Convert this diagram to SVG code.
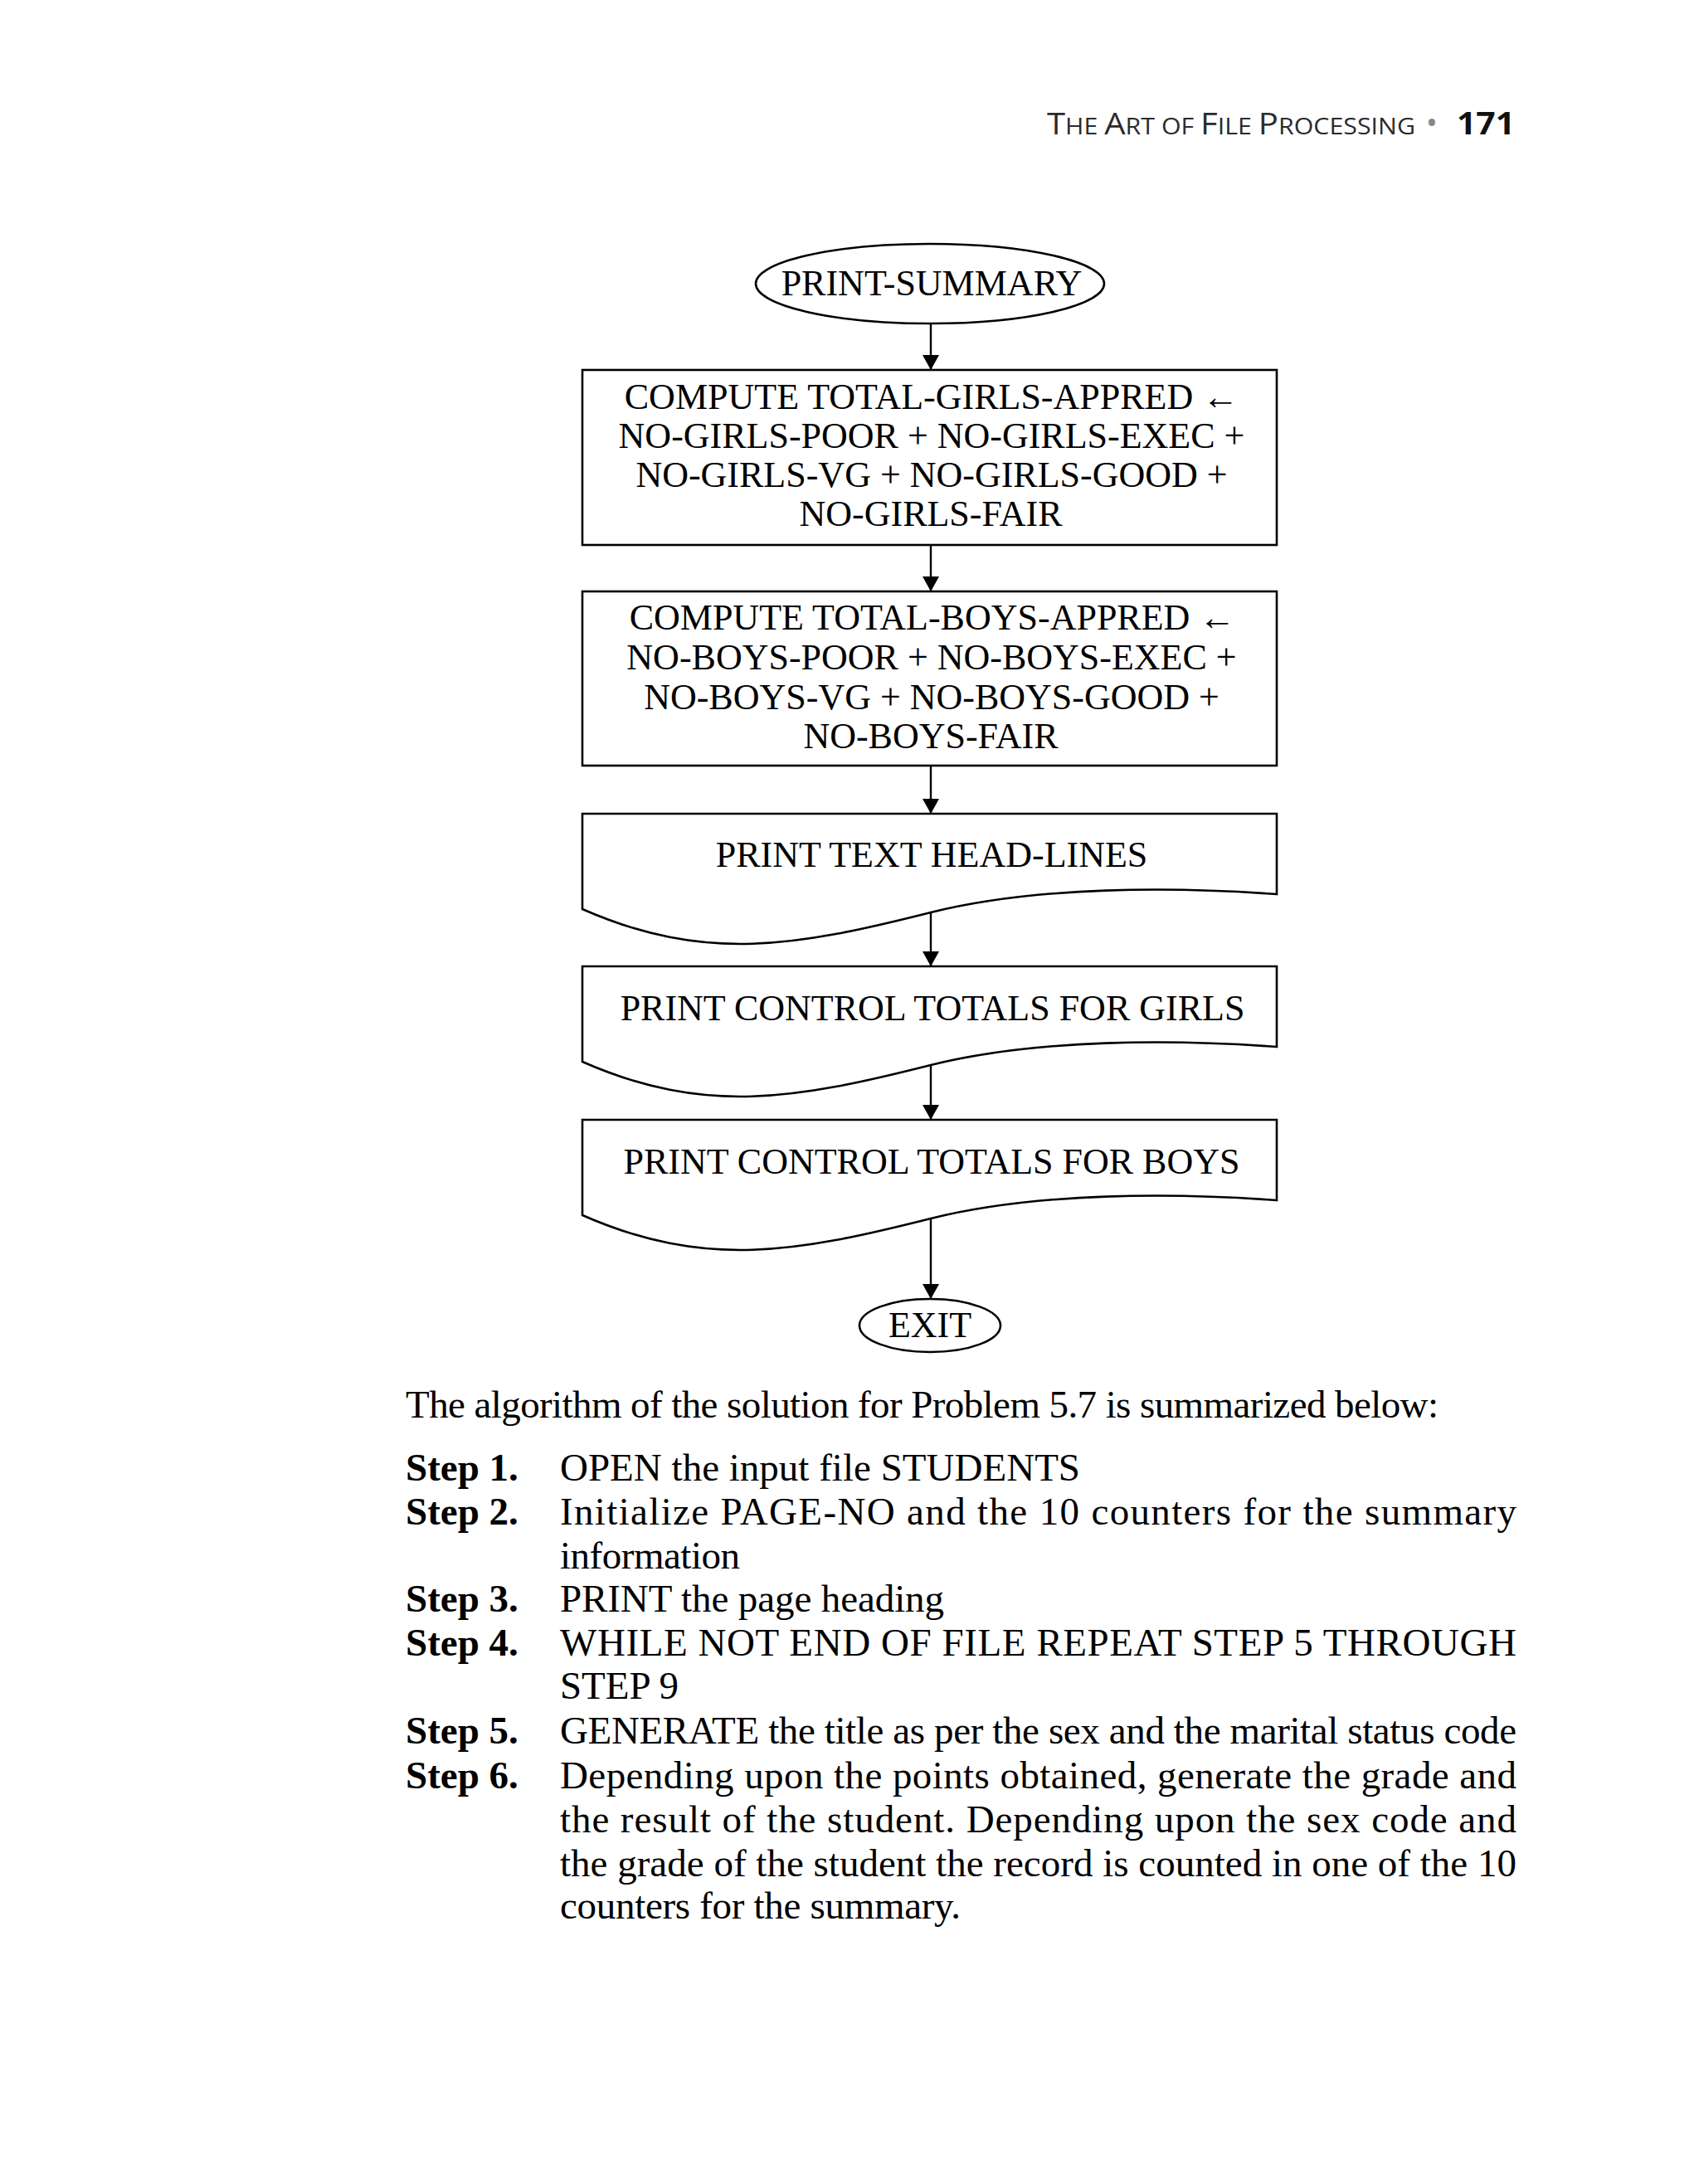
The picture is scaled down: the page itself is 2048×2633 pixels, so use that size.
<svg xmlns="http://www.w3.org/2000/svg" width="2048" height="2633" viewBox="0 0 2048 2633">
<defs>
<style>
.shape{fill:#fff;stroke:#000;stroke-width:2.6}
.conn{stroke:#000;stroke-width:2.4;fill:none}
.nt{font-family:"Liberation Serif","Times New Roman",serif;font-size:44px;fill:#000;text-anchor:middle}
.body{font-family:"Liberation Serif","Times New Roman",serif;font-size:47px;fill:#000}
.step{font-family:"Liberation Serif","Times New Roman",serif;font-size:47px;font-weight:bold;fill:#000}
.hd{font-family:"Open Sans","Liberation Sans",sans-serif;fill:#2b2b2b}
</style>
<marker id="arr" markerUnits="userSpaceOnUse" markerWidth="22" markerHeight="20" refX="18" refY="10" orient="auto">
<path d="M0,0 L18,10 L0,20 Z" fill="#000"/>
</marker>
</defs>
<rect width="2048" height="2633" fill="#fff"/>

<g id="header">
<text class="hd" x="1262" y="162" textLength="444" lengthAdjust="spacingAndGlyphs"><tspan font-size="37">T</tspan><tspan font-size="28">HE </tspan><tspan font-size="37">A</tspan><tspan font-size="28">RT OF </tspan><tspan font-size="37">F</tspan><tspan font-size="28">ILE </tspan><tspan font-size="37">P</tspan><tspan font-size="28">ROCESSING</tspan></text>
<text x="1726" y="162" font-family="Open Sans,Liberation Sans,sans-serif" font-size="38" fill="#888" text-anchor="middle">•</text>
<text x="1756" y="162" font-family="Open Sans,Liberation Sans,sans-serif" font-size="38" font-weight="bold" fill="#111" textLength="70" lengthAdjust="spacingAndGlyphs">171</text>
</g>

<g id="connectors">
<line class="conn" x1="1122" y1="391" x2="1122" y2="446" marker-end="url(#arr)"/>
<line class="conn" x1="1122" y1="657" x2="1122" y2="713" marker-end="url(#arr)"/>
<line class="conn" x1="1122" y1="923" x2="1122" y2="981" marker-end="url(#arr)"/>
<line class="conn" x1="1122" y1="1100" x2="1122" y2="1165" marker-end="url(#arr)"/>
<line class="conn" x1="1122" y1="1285" x2="1122" y2="1350" marker-end="url(#arr)"/>
<line class="conn" x1="1122" y1="1470" x2="1122" y2="1566" marker-end="url(#arr)"/>
</g>

<g id="node-print-summary">
<ellipse class="shape" cx="1121" cy="342" rx="210" ry="48"/>
<text class="nt" x="1123" y="356">PRINT-SUMMARY</text>
</g>

<g id="node-compute-girls">
<rect class="shape" x="702" y="446" width="837" height="211"/>
<text class="nt" x="1123" y="493">COMPUTE TOTAL-GIRLS-APPRED ←</text>
<text class="nt" x="1123" y="540">NO-GIRLS-POOR + NO-GIRLS-EXEC +</text>
<text class="nt" x="1123" y="587">NO-GIRLS-VG + NO-GIRLS-GOOD +</text>
<text class="nt" x="1122" y="634">NO-GIRLS-FAIR</text>
</g>

<g id="node-compute-boys">
<rect class="shape" x="702" y="713" width="837" height="210"/>
<text class="nt" x="1124" y="759">COMPUTE TOTAL-BOYS-APPRED ←</text>
<text class="nt" x="1123" y="807">NO-BOYS-POOR + NO-BOYS-EXEC +</text>
<text class="nt" x="1123" y="855">NO-BOYS-VG + NO-BOYS-GOOD +</text>
<text class="nt" x="1122" y="902">NO-BOYS-FAIR</text>
</g>

<g id="node-print-headlines">
<path class="shape" d="M702,981 L1539,981 L1539,1078 C1416,1069 1250,1068 1122,1100 C960,1141 850,1161 702,1096 Z"/>
<text class="nt" x="1123" y="1045">PRINT TEXT HEAD-LINES</text>
</g>

<g id="node-print-girls">
<path class="shape" d="M702,1165 L1539,1165 L1539,1262 C1416,1253 1250,1252 1122,1284 C960,1325 850,1345 702,1280 Z"/>
<text class="nt" x="1124" y="1230">PRINT CONTROL TOTALS FOR GIRLS</text>
</g>

<g id="node-print-boys">
<path class="shape" d="M702,1350 L1539,1350 L1539,1447 C1416,1438 1250,1437 1122,1469 C960,1510 850,1530 702,1465 Z"/>
<text class="nt" x="1123" y="1415">PRINT CONTROL TOTALS FOR BOYS</text>
</g>

<g id="node-exit">
<ellipse class="shape" cx="1121" cy="1598" rx="85" ry="32"/>
<text class="nt" x="1121" y="1612">EXIT</text>
</g>

<g id="algorithm-text">
<text class="body" x="489" y="1709" textLength="1245" lengthAdjust="spacing">The algorithm of the solution for Problem 5.7 is summarized below:</text>
<text class="step" x="489" y="1785">Step 1.</text>
<text class="body" x="675" y="1785" textLength="627" lengthAdjust="spacing">OPEN the input file STUDENTS</text>
<text class="step" x="489" y="1838">Step 2.</text>
<text class="body" x="675" y="1838" textLength="1153" lengthAdjust="spacing">Initialize PAGE-NO and the 10 counters for the summary</text>
<text class="body" x="675" y="1891" textLength="217" lengthAdjust="spacing">information</text>
<text class="step" x="489" y="1943">Step 3.</text>
<text class="body" x="675" y="1943" textLength="463" lengthAdjust="spacing">PRINT the page heading</text>
<text class="step" x="489" y="1996">Step 4.</text>
<text class="body" x="675" y="1996" textLength="1153" lengthAdjust="spacing">WHILE NOT END OF FILE REPEAT STEP 5 THROUGH</text>
<text class="body" x="675" y="2048" textLength="143" lengthAdjust="spacing">STEP 9</text>
<text class="step" x="489" y="2102">Step 5.</text>
<text class="body" x="675" y="2102" textLength="1153" lengthAdjust="spacing">GENERATE the title as per the sex and the marital status code</text>
<text class="step" x="489" y="2156">Step 6.</text>
<text class="body" x="675" y="2156" textLength="1153" lengthAdjust="spacing">Depending upon the points obtained, generate the grade and</text>
<text class="body" x="675" y="2209" textLength="1153" lengthAdjust="spacing">the result of the student. Depending upon the sex code and</text>
<text class="body" x="675" y="2262" textLength="1153" lengthAdjust="spacing">the grade of the student the record is counted in one of the 10</text>
<text class="body" x="675" y="2313" textLength="483" lengthAdjust="spacing">counters for the summary.</text>
</g>
</svg>
